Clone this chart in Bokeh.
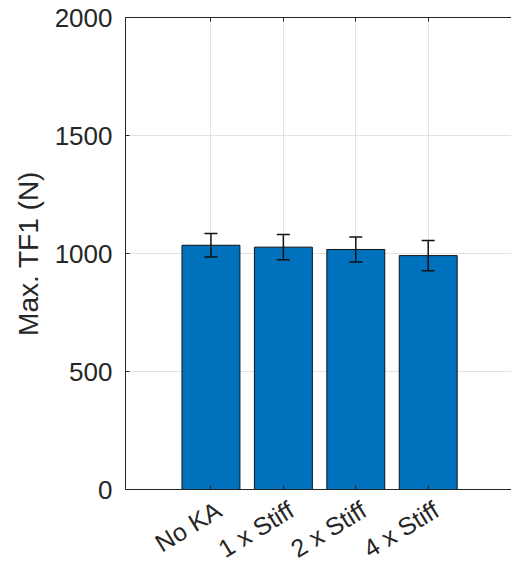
from bokeh.plotting import figure
from bokeh.models import (Range1d, FixedTicker, LinearAxis, ColumnDataSource,
                          Whisker, TeeHead)
from bokeh.embed import file_html
from bokeh.resources import INLINE

categories = ["No KA", "1 x Stiff", "2 x Stiff", "4 x Stiff"]
means = [1035, 1027, 1017, 991]
errors = [50, 53, 53, 64]
y_ticks = [0, 500, 1000, 1500, 2000]

xs = list(range(1, len(categories) + 1))
src = ColumnDataSource(dict(
    x=xs, top=means,
    upper=[m + e for m, e in zip(means, errors)],
    lower=[m - e for m, e in zip(means, errors)],
))

FONT = "Liberation Sans"
AX = "#262626"
LABEL_SHIFT = 0.11  # rotated labels end slightly right of their category

p = figure(width=511, height=577, output_backend="svg", toolbar_location=None,
           x_range=Range1d(-0.18, 5.15), y_range=Range1d(0, 2000),
           min_border_left=125, min_border_top=17, min_border_bottom=87,
           min_border_right=0, x_axis_location=None, y_axis_location=None)
p.outline_line_color = None
p.background_fill_color = "white"
p.border_fill_color = "white"

left = LinearAxis(ticker=FixedTicker(ticks=y_ticks), axis_label="Max. TF1 (N)")
left.major_tick_in = 4
left.major_tick_out = 0
left.minor_tick_line_color = None
left.axis_line_color = AX
left.major_tick_line_color = AX
left.major_label_text_color = AX
left.major_label_text_font = FONT
left.major_label_text_font_size = "26px"
left.major_label_standoff = 13
left.axis_label_text_font = FONT
left.axis_label_text_font_size = "28px"
left.axis_label_text_font_style = "normal"
left.axis_label_text_color = AX
left.axis_label_standoff = 8
p.add_layout(left, "left")

label_pos = [round(x + LABEL_SHIFT, 2) for x in xs]
bottom = LinearAxis(ticker=FixedTicker(ticks=label_pos, minor_ticks=xs))
bottom.major_label_overrides = {t: c for t, c in zip(label_pos, categories)}
bottom.major_label_orientation = 0.55
bottom.major_tick_line_color = None
bottom.major_tick_in = 0
bottom.major_tick_out = 0
bottom.minor_tick_in = 4
bottom.minor_tick_out = 0
bottom.minor_tick_line_color = AX
bottom.axis_line_color = AX
bottom.major_label_text_color = AX
bottom.major_label_text_font = FONT
bottom.major_label_text_font_size = "25px"
bottom.major_label_standoff = 18
p.add_layout(bottom, "below")

top = LinearAxis(ticker=FixedTicker(ticks=[], minor_ticks=xs))
top.minor_tick_in = 4
top.minor_tick_out = 0
top.minor_tick_line_color = AX
top.major_tick_line_color = None
top.axis_line_color = AX
p.add_layout(top, "above")

p.xgrid.ticker = FixedTicker(ticks=xs)
p.ygrid.ticker = FixedTicker(ticks=y_ticks)
for g in (p.xgrid, p.ygrid):
    g.grid_line_color = "#e2e2e2"
    g.grid_line_width = 1

p.vbar(x="x", top="top", width=0.8, bottom=0, source=src,
       fill_color="#0072BD", line_color="#111111", line_width=1)

w = Whisker(base="x", upper="upper", lower="lower", source=src, level="overlay",
            line_color="#111111", line_width=1.5,
            upper_head=TeeHead(size=13, line_color="#111111", line_width=1.5),
            lower_head=TeeHead(size=13, line_color="#111111", line_width=1.5))
p.add_layout(w)

open("out.html", "w").write(file_html(p, INLINE))
